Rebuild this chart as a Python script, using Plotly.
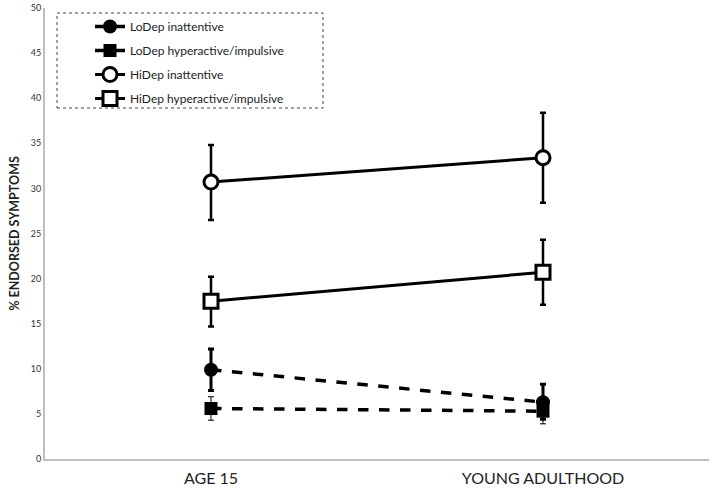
import plotly.graph_objects as go

categories = ["AGE 15", "YOUNG ADULTHOOD"]

lo_inatt = [9.9, 6.3]
lo_inatt_hi = [12.2, 8.3]
lo_inatt_lo = [7.6, 4.4]

lo_hyper = [5.6, 5.3]
lo_hyper_hi = [6.9, 6.6]
lo_hyper_lo = [4.3, 3.9]

hi_inatt = [30.7, 33.4]
hi_inatt_hi = [34.8, 38.4]
hi_inatt_lo = [26.5, 28.4]

hi_hyper = [17.5, 20.7]
hi_hyper_hi = [20.2, 24.3]
hi_hyper_lo = [14.7, 17.1]

y_ticks = list(range(0, 51, 5))

def err(vals, hi, lo, w, thick):
    return dict(type="data", symmetric=False,
                array=[h - v for h, v in zip(hi, vals)],
                arrayminus=[v - l for v, l in zip(vals, lo)],
                color="black", thickness=thick, width=w)

fig = go.Figure()
fig.add_trace(go.Scatter(x=categories, y=lo_inatt, name="LoDep inattentive", mode="lines+markers",
                         line=dict(color="black", width=3.5, dash="dash"),
                         marker=dict(symbol="circle", size=14, color="black"),
                         error_y=err(lo_inatt, lo_inatt_hi, lo_inatt_lo, 3, 3), legendgroup="a"))
fig.add_trace(go.Scatter(x=categories, y=lo_hyper, name="LoDep hyperactive/impulsive", mode="lines+markers",
                         line=dict(color="black", width=3.5, dash="dash"),
                         marker=dict(symbol="square", size=13, color="black"),
                         error_y=err(lo_hyper, lo_hyper_hi, lo_hyper_lo, 3, 1), legendgroup="b"))
fig.add_trace(go.Scatter(x=categories, y=hi_inatt, name="HiDep inattentive", mode="lines+markers",
                         line=dict(color="black", width=3),
                         marker=dict(symbol="circle", size=14, color="white", line=dict(color="black", width=3)),
                         error_y=err(hi_inatt, hi_inatt_hi, hi_inatt_lo, 3, 2.5), legendgroup="c"))
fig.add_trace(go.Scatter(x=categories, y=hi_hyper, name="HiDep hyperactive/impulsive", mode="lines+markers",
                         line=dict(color="black", width=3),
                         marker=dict(symbol="square", size=14, color="white", line=dict(color="black", width=3)),
                         error_y=err(hi_hyper, hi_hyper_hi, hi_hyper_lo, 3, 2.5), legendgroup="d"))

fig.add_shape(type="rect", xref="paper", yref="paper",
              x0=(57 - 45) / 664, x1=(323 - 45) / 664,
              y0=(459 - 108) / 451, y1=(459 - 13) / 451,
              line=dict(color="#444", width=1, dash="dot"), fillcolor="rgba(0,0,0,0)")

fig.update_layout(
    width=709, height=492,
    margin=dict(l=45, r=0, t=8, b=33),
    paper_bgcolor="white", plot_bgcolor="white",
    font=dict(family="Lato, Open Sans, sans-serif", color="#333"),
    showlegend=True,
    legend=dict(x=(90 - 45) / 664, y=(459 - 12) / 451, xanchor="left", yanchor="top",
                bgcolor="rgba(0,0,0,0)", font=dict(size=12, color="#222"),
                tracegroupgap=5, traceorder="grouped", itemwidth=30),
    xaxis=dict(showline=True, linecolor="#bfbfbf", linewidth=2, showgrid=False, ticks="",
               tickfont=dict(size=16, color="#222"), range=[-0.5, 1.5], automargin=False,
               ticklabelstandoff=4),
    yaxis=dict(showline=True, linecolor="#bfbfbf", linewidth=2, showgrid=False, ticks="",
               range=[0, 50], tickvals=y_ticks, tickfont=dict(size=9, color="#333"),
               zeroline=False, automargin=False,
               title=dict(text="<b>% ENDORSED SYMPTOMS</b>", font=dict(size=12.5, color="#222"), standoff=8)),
)

fig.write_html("out.html", config={"displayModeBar": False},
               post_script="document.body.style.margin='0';document.body.style.overflow='hidden';")
